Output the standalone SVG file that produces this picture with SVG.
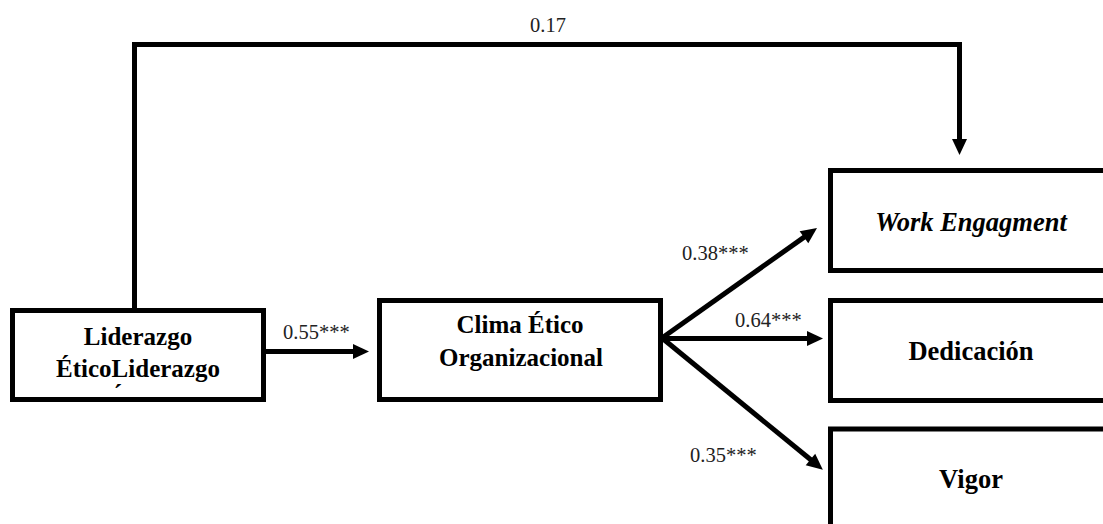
<svg xmlns="http://www.w3.org/2000/svg" width="1103" height="524" viewBox="0 0 1103 524">
  <style>
    .box { fill: #ffffff; stroke: #000000; stroke-width: 5; }
    .link { fill: none; stroke: #000000; stroke-width: 5; stroke-linejoin: miter; }
    .name { font-family: "Liberation Serif", Tinos, "DejaVu Serif", serif; font-weight: bold; font-size: 25px; fill: #000000; text-anchor: middle; }
    .outcome { font-size: 26.5px; }
    .coef { font-family: "Liberation Serif", Tinos, "DejaVu Serif", serif; font-size: 20.5px; fill: #222222; }
  </style>
  <defs>
    <marker id="head" markerUnits="userSpaceOnUse" markerWidth="16" markerHeight="16" refX="2" refY="7.5" orient="auto" overflow="visible">
      <path d="M0,0 L16,7.5 L0,15 Z" fill="#000000"/>
    </marker>
  </defs>

  <rect width="1103" height="524" fill="#ffffff"/>

  <!-- connectors -->
  <g id="connectors">
    <path class="link" d="M134.5,310 V44.5 H959.5 V141" marker-end="url(#head)"/>
    <text class="coef" x="530" y="32">0.17</text>

    <line class="link" x1="265" y1="351.5" x2="355" y2="351.5" marker-end="url(#head)"/>
    <text class="coef" x="283" y="339">0.55***</text>

    <line class="link" x1="662" y1="338" x2="805.6" y2="236.1" marker-end="url(#head)"/>
    <text class="coef" x="682" y="260">0.38***</text>

    <line class="link" x1="662" y1="338.5" x2="809" y2="338.5" marker-end="url(#head)"/>
    <text class="coef" x="735" y="327">0.64***</text>

    <line class="link" x1="662" y1="338" x2="812" y2="460.8" marker-end="url(#head)"/>
    <text class="coef" x="690" y="462">0.35***</text>
  </g>

  <!-- nodes -->
  <g id="liderazgo">
    <rect class="box" x="12.5" y="310.5" width="251" height="89"/>
    <text class="name" x="138" y="345">Liderazgo</text>
    <text class="name" x="138" y="377">ÉticoLiderazgo</text>
    <text class="name" x="118" y="402" font-size="20">´</text>
  </g>

  <g id="clima">
    <rect class="box" x="379.5" y="300.5" width="281" height="99"/>
    <text class="name" x="520" y="333">Clima Ético</text>
    <text class="name" x="521" y="366">Organizacional</text>
  </g>

  <g id="work-engagement">
    <rect class="box" x="830.5" y="170.5" width="290" height="100"/>
    <text class="name outcome" x="971" y="231" font-style="italic">Work Engagment</text>
  </g>

  <g id="dedicacion">
    <rect class="box" x="830.5" y="300.5" width="290" height="100"/>
    <text class="name outcome" x="971" y="360">Dedicación</text>
  </g>

  <g id="vigor">
    <rect class="box" x="830.5" y="429" width="290" height="120"/>
    <text class="name outcome" x="971" y="488">Vigor</text>
  </g>
</svg>
